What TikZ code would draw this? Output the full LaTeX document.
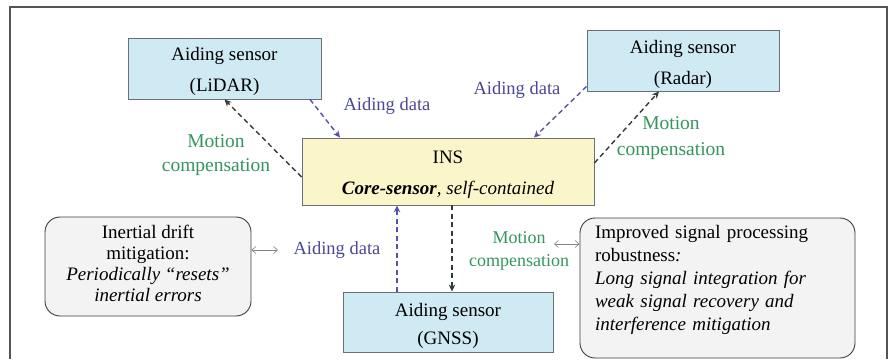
\documentclass[tikz,border=0pt]{standalone}
\usepackage{fontspec}
\setmainfont{LiberationSerif}[Extension=.ttf, UprightFont=*-Regular, BoldFont=*-Bold,
  ItalicFont=*-Italic, BoldItalicFont=*-BoldItalic]
\usetikzlibrary{arrows.meta,calc}

\definecolor{sensorfill}{RGB}{207,234,242}
\definecolor{sensorline}{RGB}{105,112,118}
\definecolor{insfill}{RGB}{251,246,201}
\definecolor{notefill}{RGB}{243,243,243}
\definecolor{noteline}{RGB}{60,60,60}
\definecolor{aidblue}{RGB}{72,72,152}
\definecolor{aidarrow}{RGB}{84,84,165}
\definecolor{motgreen}{RGB}{52,150,92}
\definecolor{motarrow}{RGB}{48,62,50}
\definecolor{framegray}{RGB}{85,85,85}
\definecolor{linkgray}{RGB}{130,130,130}

% strut that lowers the text block inside a box
\newcommand{\lowstrut}[1]{\rule{0pt}{#1}}

\begin{document}
\begin{tikzpicture}[x=1pt,y=-1pt,
  sensorbox/.style={draw=sensorline, fill=sensorfill, line width=0.9pt,
    minimum width=193pt, minimum height=61pt, inner sep=0pt, align=center,
    font=\rmfamily\fontsize{19}{31}\selectfont},
  insbox/.style={draw=sensorline, fill=insfill, line width=0.9pt,
    minimum width=292pt, minimum height=67pt, inner sep=0pt, align=center,
    font=\rmfamily\fontsize{19}{31}\selectfont},
  notebox/.style={draw=noteline, fill=notefill, line width=0.9pt,
    rounded corners=15pt, inner sep=0pt},
  aidlabel/.style={text=aidblue, font=\rmfamily\fontsize{18.5}{22}\selectfont, align=center, inner sep=1pt},
  motlabel/.style={text=motgreen, font=\rmfamily\fontsize{19.5}{24}\selectfont, align=center, inner sep=1pt},
  aidflow/.style={draw=aidarrow, line width=1.4pt, dash pattern=on 5pt off 3.5pt,
    -{Stealth[length=7pt,width=6.5pt]}},
  motflow/.style={draw=motarrow, line width=1.4pt, dash pattern=on 5pt off 3.5pt,
    -{Stealth[length=7pt,width=6.5pt]}},
  linkflow/.style={draw=linkgray, line width=0.6pt,
    {Straight Barb[length=4pt,width=7pt]}-{Straight Barb[length=4pt,width=7pt]}}
]
\useasboundingbox (0,0) rectangle (894,359);

% outer frame, open at the bottom
\draw[framegray, line width=1.3pt] (10,359) -- (10,7) -- (887,7) -- (887,359);

% sensors and core
\node[sensorbox] (lidar) at (224.5,68.5) {\lowstrut{20pt}Aiding sensor\\(LiDAR)};
\node[sensorbox, minimum width=192pt] (radar) at (683,60.5) {\lowstrut{21pt}Aiding sensor\\(Radar)};
\node[insbox] (ins) at (448,171.5) {\lowstrut{20pt}INS\\\textbf{\textit{Core-sensor}}\textit{, self-contained}};
\node[sensorbox, minimum width=210pt, minimum height=60pt, font=\rmfamily\fontsize{19}{28}\selectfont]
  (gnss) at (448,322) {\lowstrut{21pt}Aiding sensor\\(GNSS)};

% benefit notes
\node[notebox, minimum width=206pt, minimum height=99pt, align=center,
  font=\rmfamily\fontsize{19}{21}\selectfont] (drift) at (148,266.5)
  {Inertial drift\\mitigation:\\\textit{Periodically “resets”}\\\textit{inertial errors}\rule[-6pt]{0pt}{1pt}};
\node[notebox, minimum width=275pt, minimum height=140pt, text width=245pt,
  inner xsep=15pt, align=left, font=\rmfamily\fontsize{19}{22.8}\selectfont] (robust) at (717.5,288)
  {Improved signal processing\\robustness\textit{:}\\\textit{Long signal integration for}\\
   \textit{weak signal recovery and}\\\textit{interference mitigation}\rule[-20pt]{0pt}{1pt}};

% LiDAR exchange
\draw[aidflow] ([xshift=85.5pt]lidar.south) -- ([xshift=-108pt]ins.north);
\draw[motflow] ([yshift=-5.5pt]ins.west) -- (lidar.south);
\node[aidlabel] (lidaraid) at (387,106) {Aiding data};
\node[motlabel] (lidarmot) at (216,155) {Motion\\compensation};

% Radar exchange
\draw[aidflow] ([yshift=5pt]radar.south west) -- ([xshift=86pt]ins.north);
\draw[motflow] ([yshift=8.5pt]ins.east) -- ([xshift=-24pt]radar.south);
\node[aidlabel] (radaraid) at (517,90) {Aiding data};
\node[motlabel, font=\rmfamily\fontsize{19.5}{26}\selectfont] (radarmot) at (671,138.5) {Motion\\compensation};

% GNSS exchange
\draw[aidflow] ([xshift=-51pt]gnss.north) -- ([xshift=-51pt]ins.south);
\draw[motflow] ([xshift=4pt]ins.south) -- ([xshift=4pt]gnss.north);
\node[aidlabel] (gnssaid) at (337,250) {Aiding data};
\node[motlabel, font=\rmfamily\fontsize{18}{23}\selectfont] (gnssmot) at (519,251) {Motion\\compensation};

% links from the notes to the exchanges
\coordinate (driftend) at (278,250);
\draw[linkflow] ([yshift=16.5pt]drift.east) -- (driftend);
\coordinate (robustend) at (554,244);
\draw[linkflow] (robustend) -- ([yshift=44pt]robust.west);
\end{tikzpicture}
\end{document}
